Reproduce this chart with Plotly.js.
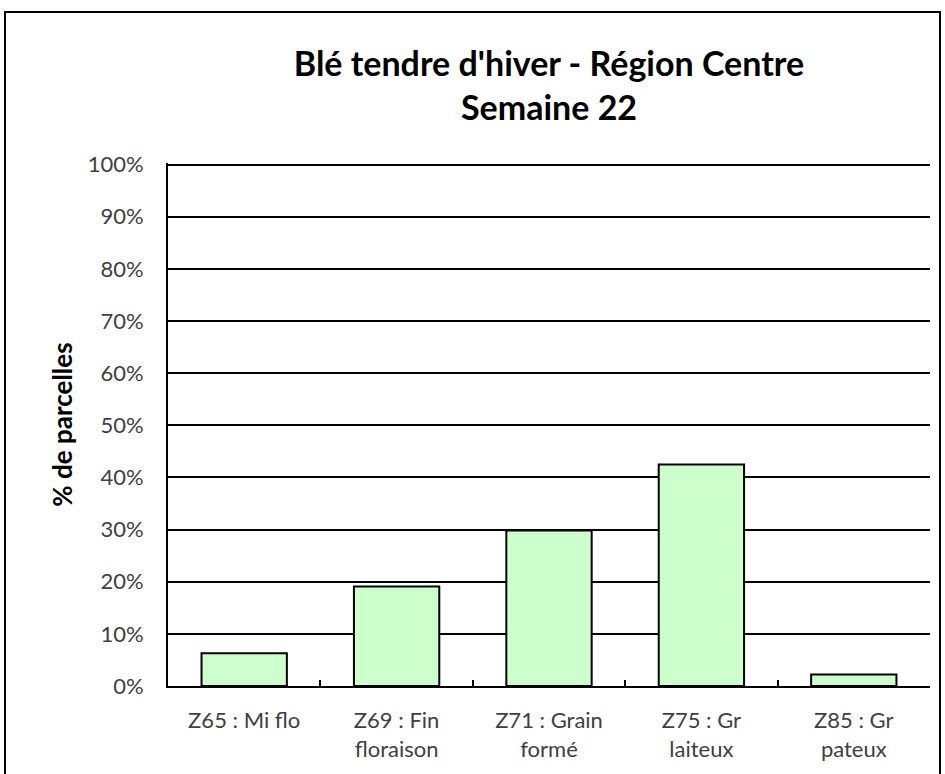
<!DOCTYPE html>
<html>
<head>
<meta charset="utf-8">
<script src="https://cdn.plot.ly/plotly-3.0.1.min.js"></script>
<style>
  body { margin: 0; background: #fff; }
  #chart { width: 945px; height: 774px; }
</style>
</head>
<body>
<div id="chart"></div>
<script>
var stades = ['Z65 : Mi flo', 'Z69 : Fin<br>floraison', 'Z71 : Grain<br>formé', 'Z75 : Gr<br>laiteux', 'Z85 : Gr<br>pateux'];
var parcelles = [6.3, 19.1, 29.8, 42.5, 2.2];
var yTicks = [0, 10, 20, 30, 40, 50, 60, 70, 80, 90, 100];
var yLabels = ['0%', '10%', '20%', '30%', '40%', '50%', '60%', '70%', '80%', '90%', '100%'];

var trace = {
  x: stades,
  y: parcelles,
  type: 'bar',
  width: 0.56,
  marker: {
    color: '#CCFFCC',
    line: { color: '#000000', width: 2 }
  },
  hoverinfo: 'x+y'
};

// plot area: x 168..930, y 164..686
var layout = {
  width: 945,
  height: 774,
  margin: { l: 168, r: 15, t: 163, b: 88 },
  paper_bgcolor: '#ffffff',
  plot_bgcolor: '#ffffff',
  font: { family: 'Lato, sans-serif', color: '#404040', size: 22 },
  showlegend: false,
  title: {
    text: "<b>Blé tendre d'hiver - Région Centre<br>Semaine 22</b>",
    font: { family: 'Lato, sans-serif', size: 34, color: '#000000' },
    xref: 'paper',
    x: 0.5,
    yref: 'container',
    y: 1 - 76 / 774,
    yanchor: 'middle'
  },
  xaxis: {
    type: 'category',
    tickson: 'boundaries',
    ticks: 'inside',
    ticklen: 6,
    tickwidth: 2,
    tickcolor: '#000000',
    showline: true,
    linecolor: '#000000',
    linewidth: 2,
    showgrid: false,
    ticklabelstandoff: 14,
    tickfont: { size: 22, color: '#404040' },
    fixedrange: true
  },
  yaxis: {
    range: [0, 100.3],
    tickvals: yTicks,
    ticktext: yLabels,
    showline: true,
    linecolor: '#000000',
    linewidth: 2,
    showgrid: true,
    gridcolor: '#000000',
    gridwidth: 2,
    zeroline: false,
    ticks: '',
    ticklabelstandoff: 18,
    tickfont: { size: 22, color: '#404040' },
    title: {
      text: '<b>% de parcelles</b>',
      font: { size: 26, color: '#000000' },
      standoff: 8
    },
    fixedrange: true
  },
  shapes: [{
    type: 'rect',
    xref: 'paper', yref: 'paper',
    x0: (5 - 168) / 762, x1: (940 - 168) / 762,
    y0: (686 - 790) / 523, y1: (686 - 12) / 523,
    line: { color: '#000000', width: 2 },
    fillcolor: 'rgba(0,0,0,0)',
    layer: 'below'
  }]
};

Plotly.newPlot('chart', [trace], layout, { displayModeBar: false, staticPlot: true });
</script>
</body>
</html>
